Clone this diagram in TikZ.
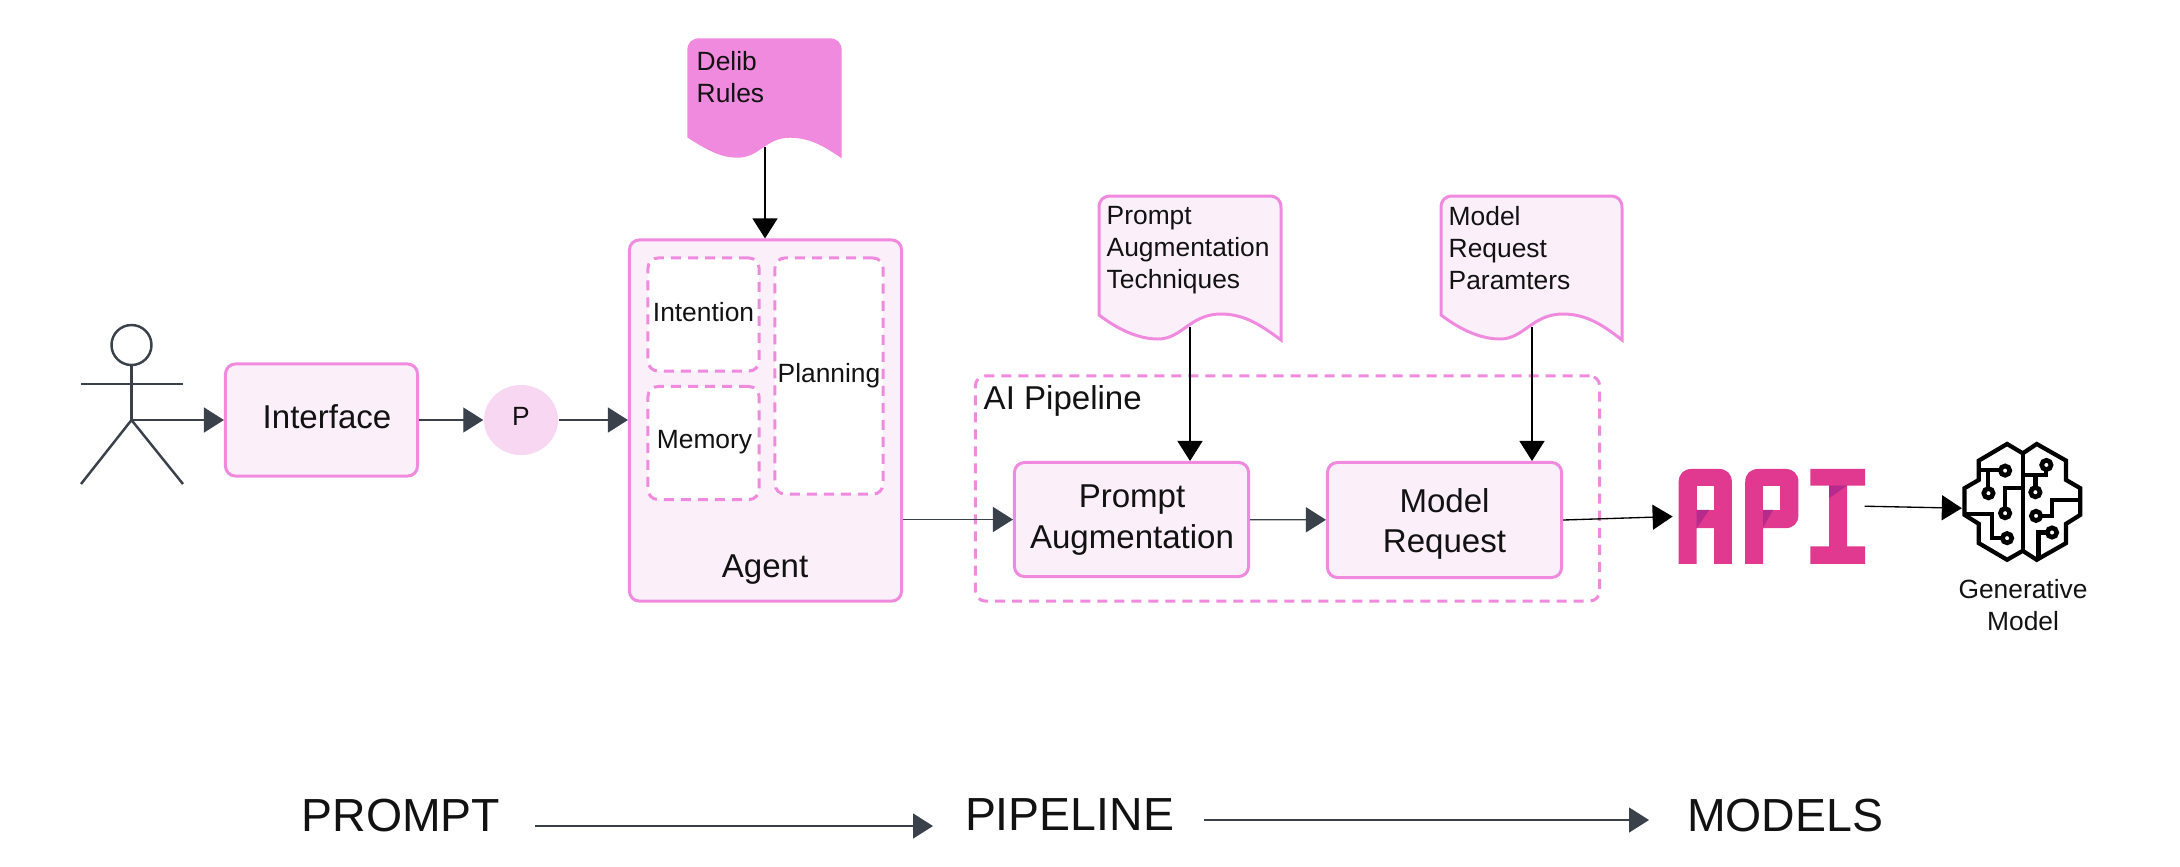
\documentclass[tikz,border=0pt]{standalone}
\usepackage{fontspec}
\setmainfont{Liberation Sans}
\usetikzlibrary{arrows.meta, shapes.geometric}

\definecolor{pinkline}{HTML}{F08ADE}
\definecolor{pinkfill}{HTML}{FBEFFA}
\definecolor{pinkdot}{HTML}{F8D7F3}
\definecolor{slateline}{HTML}{3A414A}
\definecolor{apipink}{HTML}{E0398F}
\definecolor{apidark}{HTML}{B52A8A}

\begin{document}
\begin{tikzpicture}[
        % Координаты в пикселях исходной картинки, ось y вниз
        x=0.01cm,
        y=-0.01cm,
        % Стиль для блоков: розовая рамка и скругленные углы
        box/.style={
            draw=pinkline,
            fill=pinkfill,
            line width=0.85pt,
            rounded corners=0.1cm,
            inner sep=0pt,
            align=center
        },
        % Стиль для пунктирных областей
        dashbox/.style={
            draw=pinkline,
            line width=0.85pt,
            dash pattern=on 0.1cm off 0.07cm,
            rounded corners=0.1cm,
            inner sep=0pt,
            align=center
        },
        % Стиль для документов с волнистым низом
        docbox/.style={
            draw=pinkline,
            fill=pinkfill,
            line width=0.85pt
        },
        % Шрифты
        big text/.style={font=\fontsize{9.4}{11.4}\selectfont, text=black!93},
        small text/.style={font=\fontsize{7.5}{9.1}\selectfont, text=black!93},
        huge text/.style={font=\fontsize{13.2}{16}\selectfont, text=black!93},
        doc text/.style={small text, anchor=north west, align=left, inner sep=0pt},
        % Стиль для стрелок
        flow/.style={
            slateline,
            line width=0.38pt,
            -{Triangle[length=0.2cm,width=0.25cm]}
        },
        blackflow/.style={
            flow,
            black
        },
        actor/.style={
            draw=slateline,
            line width=0.7pt
        },
        circuit/.style={
            draw=black,
            line width=1.2pt,
            line join=miter
        },
        pad/.style={
            draw=black,
            fill=white,
            line width=1.33pt
        }
    ]

        \useasboundingbox (0,0) rectangle (2180,866);

        % Человек
        \draw[actor] (131.5,345) circle [radius=20];
        \draw[actor] (131.5,365) -- (131.5,420); % тело
        \draw[actor] (81,384) -- (183,384); % руки
        \draw[actor] (81,484) -- (131.5,420) -- (183,484); % ноги
        \coordinate (hip) at (131.5,420);

        % Левая часть
        \node[box, minimum width=1.92cm, minimum height=1.12cm] (interface) at (321.5,420) {};
        \node[big text] (interfacetext) at (327,417) {Interface};
        \node[ellipse, fill=pinkdot, inner sep=0pt, minimum width=0.74cm, minimum height=0.7cm] (pnode) at (521,420) {};
        \node[small text] (pnodetext) at (521,416) {P};

        % Агент
        \node[box, minimum width=2.72cm, minimum height=3.61cm] (agent) at (765.5,420.5) {};
        \node[big text] (agenttext) at (765,570) {Agent};
        \node[dashbox, fill=white, minimum width=1.11cm, minimum height=1.13cm] (intention) at (703.5,314.5) {};
        \node[small text] (intentiontext) at (703.5,312) {Intention};
        \node[dashbox, fill=white, minimum width=1.11cm, minimum height=1.13cm] (memory) at (703.5,443) {};
        \node[small text] (memorytext) at (704.5,442) {Memory};
        \node[dashbox, fill=white, small text, minimum width=1.08cm, minimum height=2.36cm] (planning) at (829,376) {Planning};

        % Пайплайн
        \node[dashbox, fill=white, minimum width=6.24cm, minimum height=2.25cm] (pipeline) at (1287.5,488.5) {};
        \node[big text, anchor=west, inner sep=0pt] (pipelinetext) at (983,401) {AI Pipeline};
        \node[box, minimum width=2.34cm, minimum height=1.14cm] (prompt) at (1131.5,519.5) {};
        \node[big text, align=center] (prompttext) at (1132,520) {Prompt\\Augmentation};
        \node[box, minimum width=2.34cm, minimum height=1.15cm] (model) at (1444.5,520) {};
        \node[big text, align=center] (modeltext) at (1444.5,524) {Model\\Request};

        % Документы
        \draw[draw=pinkline, fill=pinkline, line width=0.4pt] (841,157) -- (841,51) .. controls (841,43) and (837,39) .. (829,39) -- (700,39) .. controls (692,39) and (688,43) .. (688,51) -- (688,137) .. controls (708,150) and (722,157) .. (737,157) .. controls (760,157) and (765,137) .. (790,137) .. controls (810,137) and (825,146) .. (841,157) -- cycle;
        \node[doc text] (delib) at (696,51) {Delib\\Rules};
        \coordinate (delibout) at (765,147);

        \draw[docbox] (1281,340) -- (1281,208) .. controls (1281,200) and (1277,196) .. (1269,196) -- (1111,196) .. controls (1103,196) and (1099,200) .. (1099,208) -- (1099,315) .. controls (1120,331) and (1140,339) .. (1158,339) .. controls (1182,339) and (1190,314) .. (1221,314) .. controls (1245,314) and (1262,326) .. (1281,340) -- cycle;
        \node[doc text] (augdoc) at (1106,206) {Prompt\\Augmentation\\Techniques};
        \coordinate (augout) at (1190,327);

        \draw[docbox] (1622,340) -- (1622,208) .. controls (1622,200) and (1618,196) .. (1610,196) -- (1453,196) .. controls (1445,196) and (1441,200) .. (1441,208) -- (1441,315) .. controls (1462,331) and (1482,339) .. (1500,339) .. controls (1524,339) and (1532,314) .. (1563,314) .. controls (1587,314) and (1604,326) .. (1622,340) -- cycle;
        \node[doc text] (paramdoc) at (1448,206) {Model\\Request\\Paramters};
        \coordinate (paramout) at (1532,327);

        % Логотип API
        \begin{scope}[shift={(1640,420)}, x=0.00333cm, y=-0.00333cm]
            \fill[apipink] (116,432) -- (116,187) .. controls (116,162) and (131,147) .. (156,147) -- (236,147) .. controls (261,147) and (276,162) .. (276,187) -- (276,432) -- (223,432) -- (223,325) -- (170,325) -- (170,432) -- cycle; % A
            \fill[white] (170,197) rectangle (223,270);
            \fill[apidark] (170,270) -- (208,270) -- (170,325) -- cycle;
            \fill[apipink] (316,432) -- (316,187) .. controls (316,162) and (331,147) .. (356,147) -- (436,147) .. controls (461,147) and (476,162) .. (476,187) -- (476,285) .. controls (476,310) and (461,325) .. (436,325) -- (370,325) -- (370,432) -- cycle; % P
            \fill[white] (370,197) rectangle (420,270);
            \fill[apidark] (370,270) -- (400,270) -- (370,322) -- cycle;
            \fill[apipink] (512,147) -- (676,147) -- (676,197) -- (622,197) -- (622,380) -- (676,380) -- (676,432) -- (512,432) -- (512,380) -- (568,380) -- (568,197) -- (512,197) -- cycle; % I
            \fill[apidark] (568,197) -- (622,197) -- (568,235) -- cycle;

            % Мозг
            \draw[circuit] (1150,100) -- (1103,72) -- (1018,122) -- (1018,180) -- (975,205) -- (975,285) -- (1018,312) -- (1018,370) -- (1103,420) -- (1150,393) -- (1192,420) -- (1280,370) -- (1280,312) -- (1323,285) -- (1323,205) -- (1280,180) -- (1280,122) -- (1192,72) -- cycle;
            \draw[circuit] (1150,100) -- (1150,393); % середина
            \draw[circuit] (1018,150) -- (1097,150);
            \draw[circuit] (1045,150) -- (1045,220);
            \draw[circuit] (1097,280) -- (1097,205) -- (1150,205);
            \draw[circuit] (975,282) -- (1057,282) -- (1057,355) -- (1103,355);
            \draw[circuit] (1150,165) -- (1221,165) -- (1221,135);
            \draw[circuit] (1188,165) -- (1188,217);
            \draw[circuit] (1323,240) -- (1238,240) -- (1238,288) -- (1190,288);
            \draw[circuit] (1238,338) -- (1197,338) -- (1197,412);
            \foreach \padx/\pady in {1097/152, 1047/220, 1097/280, 1103/355, 1221/135, 1188/217, 1190/288, 1238/338} {
                \draw[pad] (\padx,\pady) circle [radius=14];
            }
            \coordinate (apiin) at (98,290);
            \coordinate (apiout) at (675,259);
            \coordinate (brainin) at (967,265);
        \end{scope}
        \node[small text, align=center] (brain) at (2023,605) {Generative\\Model};

        % Стрелки
        \draw[flow] (hip) -- (interface.west |- hip);
        \draw[flow] (interface) -- (pnode);
        \draw[flow] (pnode) -- (agent.west |- pnode);
        \draw[flow] (agent.east |- prompt) -- (prompt);
        \draw[flow] (prompt) -- (model);
        \draw[blackflow] (delibout) -- (delibout |- agent.north);
        \draw[blackflow] (augout) -- (augout |- prompt.north);
        \draw[blackflow] (paramout) -- (paramout |- model.north);
        \draw[blackflow] (model.east) -- (apiin);
        \draw[blackflow] (apiout) -- (brainin);

        % Нижняя строка
        \node[huge text] (promptlabel) at (401,815) {PROMPT};
        \node[huge text] (pipelinelabel) at (1069.5,815) {PIPELINE};
        \node[huge text] (modelslabel) at (1785,815) {MODELS};
        \coordinate (promptgo) at (535,826);
        \coordinate (pipelinein) at (933,826);
        \coordinate (pipelinego) at (1204,820);
        \coordinate (modelsin) at (1649,820);
        \draw[flow] (promptgo) -- (pipelinein);
        \draw[flow] (pipelinego) -- (modelsin);

    \end{tikzpicture}
\end{document}
